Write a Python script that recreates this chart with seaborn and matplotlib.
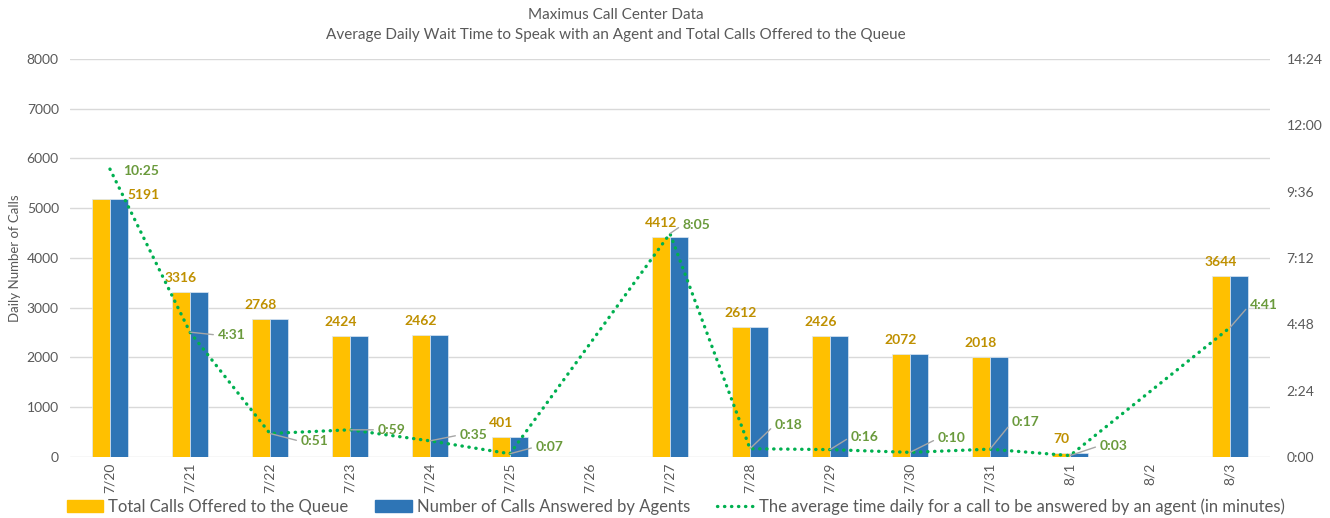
import numpy as np
import pandas as pd
import matplotlib
matplotlib.use("Agg")
import matplotlib.pyplot as plt
import seaborn as sns
from matplotlib.patches import Patch
from matplotlib.lines import Line2D
from matplotlib.ticker import FuncFormatter, MultipleLocator

# ---- data ----
dates = ["7/20", "7/21", "7/22", "7/23", "7/24", "7/25", "7/26", "7/27",
         "7/28", "7/29", "7/30", "7/31", "8/1", "8/2", "8/3"]
offered = [5191, 3316, 2768, 2424, 2462, 401, np.nan, 4412,
           2612, 2426, 2072, 2018, 70, np.nan, 3644]
answered = [5191, 3316, 2768, 2424, 2462, 401, np.nan, 4412,
            2612, 2426, 2072, 2018, 70, np.nan, 3644]
# average wait in m:ss, stored as seconds
wait_sec = [625, 271, 51, 59, 35, 7, np.nan, 485,
            18, 16, 10, 17, 3, np.nan, 281]

s_off = "Total Calls Offered to the Queue"
s_ans = "Number of Calls Answered by Agents"
s_wait = "The average time daily for a call to be answered by an agent (in minutes)"

YELLOW = "#FFC000"
BLUE = "#2E75B6"
GREEN = "#00B050"
GOLD_TXT = "#BF9000"
GREEN_TXT = "#6A9A3C"
GRAY_TXT = "#595959"
GRID = "#D9D9D9"

sns.set_style("white")
plt.rcParams["font.family"] = ["Lato", "DejaVu Sans"]

df = pd.DataFrame({
    "date": dates * 2,
    "series": [s_off] * len(dates) + [s_ans] * len(dates),
    "value": offered + answered,
})

fig = plt.figure(figsize=(13.3, 5.18), dpi=100)
ax = fig.add_axes([0.0526, 0.1178, 0.9023, 0.7683])

sns.barplot(data=df, x="date", y="value", hue="series", order=dates,
            hue_order=[s_off, s_ans], palette=[YELLOW, BLUE], saturation=1,
            width=0.45, gap=0, ax=ax, legend=False, errorbar=None,
            edgecolor="#DCE8F4", linewidth=0.5)

ax.set_xlim(-0.5, len(dates) - 0.5)
ax.set_ylim(0, 8000)
ax.yaxis.set_major_locator(MultipleLocator(1000))
ax.grid(axis="y", color=GRID, linewidth=1)
ax.set_axisbelow(True)
for sp in ax.spines.values():
    sp.set_visible(False)
ax.tick_params(axis="x", length=0, labelrotation=90, labelsize=10, colors=GRAY_TXT, pad=4)
ax.tick_params(axis="y", length=0, labelsize=10, colors=GRAY_TXT, pad=8)
ax.set_xlabel("")
ax.set_ylabel("Daily Number of Calls", fontsize=9.5, color=GRAY_TXT, labelpad=4)

# bar value labels (offered series)
bar_off = 0.1125
for i, v in enumerate(offered):
    if np.isnan(v):
        continue
    dx, dy = (43, 4) if i == 0 else (0, 14)
    ax.annotate(f"{int(v)}", xy=(i - bar_off, v), xytext=(dx, dy),
                textcoords="offset pixels", ha="center", va="center",
                fontsize=10, fontweight="bold", color=GOLD_TXT)

# line on secondary axis
ax2 = ax.twinx()
xs = [i for i, w in enumerate(wait_sec) if not np.isnan(w)]
ws = [w for w in wait_sec if not np.isnan(w)]
sns.lineplot(x=xs, y=ws, ax=ax2, color=GREEN, linewidth=2.4,
             linestyle=(0, (0.1, 2.0)), dash_capstyle="round")
ax2.set_ylim(0, 864)
ax2.set_xlim(-0.5, len(dates) - 0.5)
ax2.yaxis.set_major_locator(MultipleLocator(144))
ax2.yaxis.set_major_formatter(FuncFormatter(lambda v, p: f"{int(v)//60}:{int(v)%60:02d}"))
for sp in ax2.spines.values():
    sp.set_visible(False)
ax2.tick_params(axis="y", length=0, labelsize=10, colors=GRAY_TXT, pad=12)
ax2.set_ylabel("")

label_offsets = {0: (13, -2), 1: (28, -3), 2: (31, -8), 3: (28, 0), 4: (30, 6),
                 5: (26, 7), 7: (13, 9), 8: (25, 24), 9: (21, 13), 10: (28, 14),
                 11: (22, 27), 12: (30, 10), 14: (20, 23)}
for i, w in enumerate(wait_sec):
    if np.isnan(w):
        continue
    dx, dy = label_offsets[i]
    txt = f"{int(w)//60}:{int(w)%60:02d}"
    arrow = None if i == 0 else dict(arrowstyle="-", color="#A6A6A6", lw=1,
                                      shrinkA=1, shrinkB=0, relpos=(0, 0.5))
    ax2.annotate(txt, xy=(i, w), xytext=(dx, dy), textcoords="offset pixels",
                 ha="left", va="center", fontsize=10, fontweight="bold",
                 color=GREEN_TXT, arrowprops=arrow)

# titles
fig.text(0.463, 0.972, "Maximus Call Center Data", ha="center", va="center",
         fontsize=11, color=GRAY_TXT)
fig.text(0.463, 0.933, "Average Daily Wait Time to Speak with an Agent and Total Calls Offered to the Queue",
         ha="center", va="center", fontsize=11, color=GRAY_TXT)

handles = [Patch(facecolor=YELLOW, edgecolor=YELLOW),
           Patch(facecolor=BLUE, edgecolor=BLUE),
           Line2D([0], [0], color=GREEN, linewidth=2.4, linestyle=(0, (0.1, 2.0)),
                  dash_capstyle="round")]
fig.legend(handles, [s_off, s_ans, s_wait], loc="center", ncol=3,
           bbox_to_anchor=(0.508, 0.022), frameon=False, fontsize=12,
           labelcolor=GRAY_TXT, handlelength=2.2, handleheight=0.8,
           handletextpad=0.3, columnspacing=1.6, borderpad=0)

fig.savefig("out.png", dpi=100)
